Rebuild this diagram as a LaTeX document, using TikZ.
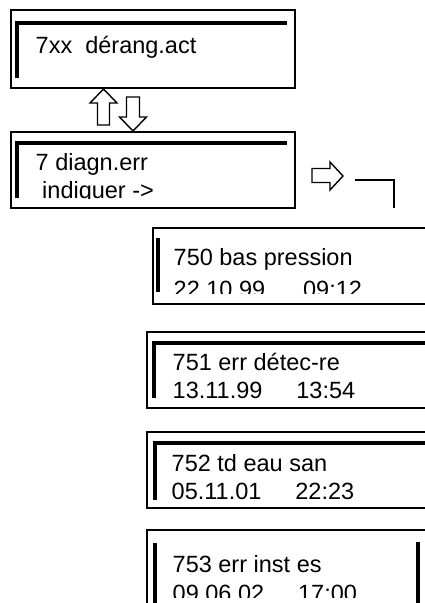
\documentclass[tikz,border=0pt]{standalone}
\usepackage{fontspec}
\setmainfont{Liberation Sans}

\begin{document}
\begin{tikzpicture}[x=1pt, y=-1pt, line width=1.4pt,
    frame/.style={black, line width=1.4pt},
    bar/.style={black, line width=4pt},
    hollow/.style={black, line width=1.4pt, line join=miter, fill=white},
    lcd/.style={anchor=base west, inner sep=0pt, font=\fontsize{23.5}{27}\selectfont}]
  \clip (0,0) rectangle (425,603);
  \draw[frame] (11,10) rectangle (295,88);
  \draw[bar] (17,78)--(17,23)--(287,23);
  \node[lcd] (menu) at (35,53) {7xx\ \ dérang.act};
  \draw[hollow] (97.5,125)--(97.5,103)--(90,103)--(103.5,89)--(117,103)--(109.5,103)--(109.5,125)--cycle;
  \draw[hollow] (126.5,97)--(126.5,117)--(119.5,117)--(133,131)--(146.5,117)--(139.5,117)--(139.5,97)--cycle;
  \draw[frame] (11,132) rectangle (295,208);
  \draw[bar] (17,198)--(17,143)--(287,143);
  \node[lcd] (diag) at (35,170) {7 diagn.err};
  \begin{scope}
    \clip (20,150) rectangle (290,198);
    \node[lcd] (hint) at (35,198) {\ indiquer ->};
  \end{scope}
  \draw[hollow] (312,168.5)--(330,168.5)--(330,162)--(343,176)--(330,190)--(330,182.5)--(312,182.5)--cycle;
  \draw[frame] (355,180)--(394,180)--(394,208);
  \draw[frame] (153,228) rectangle (440,304);
  \draw[bar] (158,238)--(158,292);
  \begin{scope}
    \clip (150,230) rectangle (425,293);
    \node[lcd] (e750) at (173,265) {750 bas pression};
    \node[lcd] (d750) at (173,297) {22.10.99\hspace{38pt}09:12};
  \end{scope}
  \draw[frame] (147,332) rectangle (440,408);
  \draw[bar] (154,398)--(154,343)--(440,343);
  \node[lcd] (e751) at (172,370) {751 err détec-re};
  \node[lcd] (d751) at (172,398) {13.11.99\hspace{34pt}13:54};
  \draw[frame] (147,432) rectangle (440,508);
  \draw[bar] (155,500)--(155,443)--(440,443);
  \node[lcd] (e752) at (171,471) {752 td eau san};
  \node[lcd] (d752) at (171,499) {05.11.01\hspace{34pt}22:23};
  \draw[frame] (147,530) rectangle (440,620);
  \draw[bar] (155,543)--(155,603);
  \draw[bar] (418,542)--(418,603);
  \begin{scope}
    \clip (150,535) rectangle (425,597);
    \node[lcd] (e753) at (172,572) {753 err inst es};
    \node[lcd] (d753) at (172,601) {09.06.02\hspace{34pt}17:00};
  \end{scope}
\end{tikzpicture}
\end{document}
